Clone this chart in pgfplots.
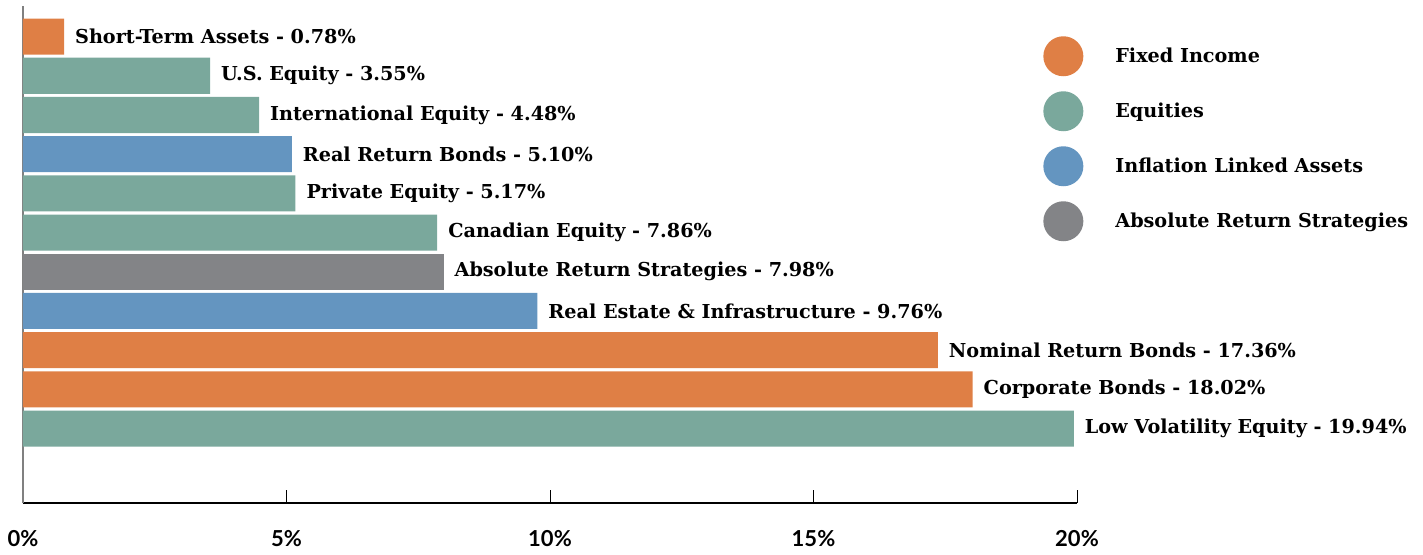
\documentclass[border=0pt]{standalone}
\usepackage{fontspec}
\usepackage{pgfplots}
\pgfplotsset{compat=1.18}
\newfontfamily\labelfont{DejaVu Serif}
\newfontfamily\tickfont{Lato}
\definecolor{cfix}{HTML}{DF7F45}
\definecolor{ceq}{HTML}{7AA89C}
\definecolor{cinf}{HTML}{6495C0}
\definecolor{cabs}{HTML}{838487}
\newcommand\lblfont{\labelfont\bfseries\fontsize{9.6}{11.5}\selectfont}
\begin{document}
\begin{tikzpicture}
\useasboundingbox (0,0) rectangle (711.5pt,-277pt);
\begin{axis}[
 at={(11.5pt,-3pt)}, anchor=north west,
 scale only axis, width=527pt, height=248.5pt,
 xmin=0, xmax=20, ymin=-1.9, ymax=10.78,
 axis x line*=bottom, axis y line*=left,
 x axis line style={black, line width=0.7pt, -},
 y axis line style={gray, line width=0.7pt, -},
 ytick=\empty,
 xtick={0,5,10,15,20},
 xticklabels={0\%,5\%,10\%,15\%,20\%},
 tick align=inside, major tick length=6.5pt,
 xtick style={black, line width=0.5pt},
 xticklabel style={font=\tickfont\bfseries\fontsize{11}{13}\selectfont, yshift=-10pt},
 xbar, bar width=0.92,
 point meta=explicit symbolic,
 nodes near coords,
 nodes near coords style={anchor=west, font=\lblfont, xshift=2pt, text=black},
 clip=false,
 legend style={at={(0.962,0.948)}, anchor=north west, draw=none, fill=none,
   font=\lblfont, row sep=7.5pt, cells={anchor=west},
   /tikz/every odd column/.append style={column sep=14pt}},
 legend image code/.code={\fill[#1,/tikz/.cd] (10pt,0) circle (10pt);},
]
\addplot[fill=cfix, draw=none, bar shift=0pt] coordinates {
 (0.78,10) [Short-Term Assets - 0.78\%]
 (17.36,2) [Nominal Return Bonds - 17.36\%]
 (18.02,1) [Corporate Bonds - 18.02\%]
};
\addlegendentry{Fixed Income}
\addplot[fill=ceq, draw=none, bar shift=0pt] coordinates {
 (3.55,9) [U.S. Equity - 3.55\%]
 (4.48,8) [International Equity - 4.48\%]
 (5.17,6) [Private Equity - 5.17\%]
 (7.86,5) [Canadian Equity - 7.86\%]
 (19.94,0) [Low Volatility Equity - 19.94\%]
};
\addlegendentry{Equities}
\addplot[fill=cinf, draw=none, bar shift=0pt] coordinates {
 (5.10,7) [Real Return Bonds - 5.10\%]
 (9.76,3) [Real Estate \& Infrastructure - 9.76\%]
};
\addlegendentry{Inflation Linked Assets}
\addplot[fill=cabs, draw=none, bar shift=0pt] coordinates {
 (7.98,4) [Absolute Return Strategies - 7.98\%]
};
\addlegendentry{Absolute Return Strategies}
\end{axis}
\end{tikzpicture}
\end{document}
